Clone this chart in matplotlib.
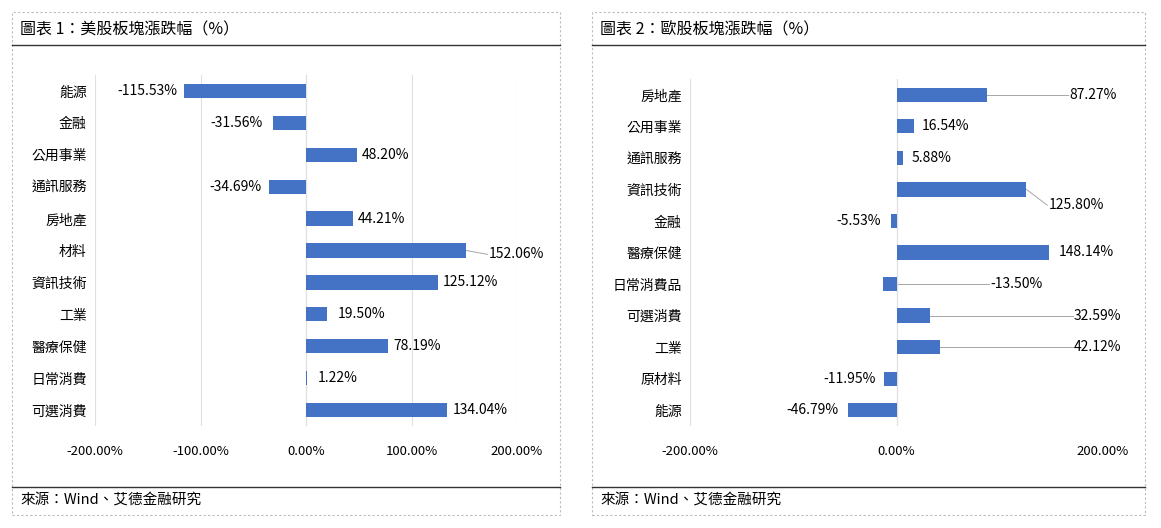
import matplotlib.pyplot as plt
from matplotlib.patches import Rectangle
from matplotlib.lines import Line2D

plt.rcParams['font.family'] = ['Noto Sans CJK TC', 'DejaVu Sans']

# Left panel: US sectors
us_cats = ["能源", "金融", "公用事業", "通訊服務", "房地產", "材料", "資訊技術", "工業", "醫療保健", "日常消費", "可選消費"]
us_vals = [-115.53, -31.56, 48.20, -34.69, 44.21, 152.06, 125.12, 19.50, 78.19, 1.22, 134.04]
us_lab_x = [-122, -41, 53, -42, 49, 173, 130, 30, 83, 11, 139]
us_lab_dy = [0, 0, 0, 0, 0, 0.12, 0, 0, 0, 0, 0]

# Right panel: EU sectors
eu_cats = ["房地產", "公用事業", "通訊服務", "資訊技術", "金融", "醫療保健", "日常消費品", "可選消費", "工業", "原材料", "能源"]
eu_vals = [87.27, 16.54, 5.88, 125.80, -5.53, 148.14, -13.50, 32.59, 42.12, -11.95, -46.79]
eu_lab_x = [167, 24, 14.5, 147, -15.5, 157, 91, 172, 172, -20, -56]
eu_lab_dy = [0, 0, 0, 0.5, 0, 0, 0, 0, 0, 0, 0]

W, H = 1161, 528
BLUE = "#4472C4"
fig = plt.figure(figsize=(W / 100, H / 100), dpi=100)


def fx(px):
    return px / W


def fy(py):
    return 1 - py / H


def panel(x0, x1, title):
    fig.patches.append(Rectangle((fx(x0), fy(515)), fx(x1 - x0), (515 - 12) / H,
                                 transform=fig.transFigure, fill=False,
                                 ec="#bbbbbb", ls=(0, (2, 2)), lw=0.8))
    for y in (45, 487):
        fig.lines.append(Line2D([fx(x0), fx(x1)], [fy(y), fy(y)],
                                transform=fig.transFigure, color="#333333", lw=1))
    fig.text(fx(x0 + 8), fy(30), title, fontsize=11.5, va="center")
    fig.text(fx(x0 + 8), fy(501), "來源：Wind、艾德金融研究", fontsize=10.5, va="center")


def chart(rect, cats, vals, lab_x, lab_dy, step):
    ax = fig.add_axes(rect)
    y = list(range(len(cats)))
    ax.barh(y, vals, height=0.45, color=BLUE, zorder=2)
    ax.set_ylim(len(cats) - 0.5, -0.5)
    ax.set_xlim(-200, 200)
    ax.set_yticks(y)
    ax.set_yticklabels(cats, fontsize=10)
    ticks = list(range(-200, 201, step))
    ax.set_xticks(ticks)
    ax.set_xticklabels([f"{t:.2f}%" for t in ticks], fontsize=9.5)
    ax.tick_params(length=0, pad=14)
    ax.tick_params(axis="y", pad=6)
    ax.grid(axis="x", color="#e0e0e0", lw=0.8, zorder=0)
    for s in ax.spines.values():
        s.set_visible(False)
    ax.axvline(0, color="#d0d0d0", lw=0.8, zorder=1)
    for i, (v, lx, dy) in enumerate(zip(vals, lab_x, lab_dy)):
        ha = "right" if lx < 0 else "left"
        ly = i + dy
        ax.text(lx, ly, f"{v:.2f}%", ha=ha, va="center", fontsize=10)
        # leader line when the label sits far from the bar end
        if lx >= 0 and (lx - max(v, 0) > 20 or v < 0):
            ax.plot([v, lx - 1], [i, ly], color="#a6a6a6", lw=0.7, zorder=1)
    return ax


panel(12, 560, "圖表 1：美股板塊漲跌幅（%）")
panel(592, 1145, "圖表 2：歐股板塊漲跌幅（%）")
chart([fx(95), fy(426), fx(422), 351 / H], us_cats, us_vals, us_lab_x, us_lab_dy, 100)
chart([fx(690), fy(426), fx(413), 347 / H], eu_cats, eu_vals, eu_lab_x, eu_lab_dy, 200)

fig.savefig("out.png", dpi=100)
